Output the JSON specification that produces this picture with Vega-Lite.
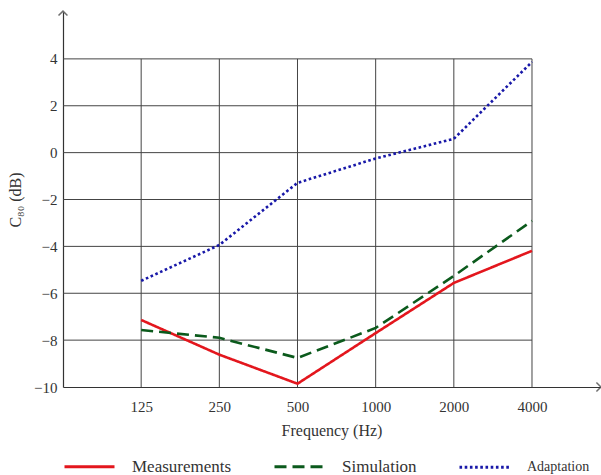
{
  "$schema": "https://vega.github.io/schema/vega-lite/v6.json",
  "width": 537,
  "height": 375,
  "autosize": {"type": "none"},
  "padding": {"left": 63, "top": 12, "right": 1, "bottom": 88},
  "background": "white",
  "config": {
    "font": "Liberation Serif",
    "view": {"stroke": null},
    "axis": {"grid": false, "ticks": false, "domainColor": "#333", "domainWidth": 1.2, "labelColor": "#333", "titleColor": "#333", "labelFont": "Liberation Serif", "titleFont": "Liberation Serif", "labelFontSize": 15, "titleFontSize": 16, "titleFontWeight": "normal"},
    "legend": {"labelFont": "Liberation Serif"}
  },
  "datasets": {
    "series": [
      {"idx": 1, "series": "Measurements", "value": -7.14},
      {"idx": 2, "series": "Measurements", "value": -8.62},
      {"idx": 3, "series": "Measurements", "value": -9.86},
      {"idx": 4, "series": "Measurements", "value": -7.7},
      {"idx": 5, "series": "Measurements", "value": -5.56},
      {"idx": 6, "series": "Measurements", "value": -4.19},
      {"idx": 1, "series": "Simulation", "value": -7.57},
      {"idx": 2, "series": "Simulation", "value": -7.9},
      {"idx": 3, "series": "Simulation", "value": -8.76},
      {"idx": 4, "series": "Simulation", "value": -7.48},
      {"idx": 5, "series": "Simulation", "value": -5.26},
      {"idx": 6, "series": "Simulation", "value": -2.91},
      {"idx": 1, "series": "Adaptation", "value": -5.47},
      {"idx": 2, "series": "Adaptation", "value": -3.94},
      {"idx": 3, "series": "Adaptation", "value": -1.29},
      {"idx": 4, "series": "Adaptation", "value": -0.25},
      {"idx": 5, "series": "Adaptation", "value": 0.59},
      {"idx": 6, "series": "Adaptation", "value": 3.87}
    ],
    "hgrid": [{"v": -8}, {"v": -6}, {"v": -4}, {"v": -2}, {"v": 0}, {"v": 2}, {"v": 4}],
    "vgrid": [{"i": 1}, {"i": 2}, {"i": 3}, {"i": 4}, {"i": 5}, {"i": 6}],
    "arrows": [{"ax": 0, "ay": 6, "dir": "up"}, {"ax": 6.87, "ay": -10, "dir": "right"}]
  },
  "layer": [
    {
      "data": {"name": "hgrid"},
      "mark": {"type": "rule", "color": "#444", "strokeWidth": 1},
      "encoding": {
        "y": {"field": "v", "type": "quantitative"},
        "x": {"datum": 0, "type": "quantitative"},
        "x2": {"datum": 6}
      }
    },
    {
      "data": {"name": "vgrid"},
      "mark": {"type": "rule", "color": "#444", "strokeWidth": 1},
      "encoding": {
        "x": {"field": "i", "type": "quantitative"},
        "y": {"datum": -10, "type": "quantitative"},
        "y2": {"datum": 4}
      }
    },
    {
      "data": {"name": "series"},
      "mark": {"type": "line", "strokeWidth": 2.6},
      "encoding": {
        "x": {
          "field": "idx", "type": "quantitative",
          "scale": {"domain": [0, 6.87], "nice": false, "zero": false},
          "axis": {"values": [1, 2, 3, 4, 5, 6], "labelExpr": "['','125','250','500','1000','2000','4000'][datum.value]", "title": "Frequency (Hz)", "labelPadding": 12, "titlePadding": 8}
        },
        "y": {
          "field": "value", "type": "quantitative",
          "scale": {"domain": [-10, 6], "nice": false},
          "axis": {"values": [-10, -8, -6, -4, -2, 0, 2, 4], "title": "C₈₀ (dB)", "labelPadding": 6, "titlePadding": 10}
        },
        "color": {
          "field": "series", "type": "nominal",
          "scale": {"domain": ["Measurements", "Simulation", "Adaptation"], "range": ["#e3161d", "#0b5a1c", "#1818a8"]},
          "legend": {"title": null, "orient": "bottom", "direction": "horizontal", "symbolType": "stroke", "symbolSize": 2500, "symbolStrokeWidth": 3, "labelFontSize": 17, "labelColor": "#333", "labelFont": "Liberation Serif", "labelOffset": 16, "columnPadding": 36, "offset": 2,
            "encode": {"labels": {"update": {"font": {"value": "Liberation Serif"}, "fontSize": {"signal": "datum.label == 'Adaptation' ? 14 : 17"}}}}}
        },
        "strokeDash": {
          "field": "series", "type": "nominal",
          "scale": {"domain": ["Measurements", "Simulation", "Adaptation"], "range": [[1, 0], [12, 6], [2.6, 2.6]]},
          "legend": {"title": null, "orient": "bottom", "direction": "horizontal", "symbolType": "stroke", "symbolSize": 2500, "symbolStrokeWidth": 3, "labelFontSize": 17, "labelColor": "#333", "labelFont": "Liberation Serif", "labelOffset": 16, "columnPadding": 36, "offset": 2,
            "encode": {"labels": {"update": {"font": {"value": "Liberation Serif"}, "fontSize": {"signal": "datum.label == 'Adaptation' ? 14 : 17"}}}}}
        }
      }
    },
    {
      "data": {"name": "arrows"},
      "mark": {"type": "point", "filled": false, "stroke": "#333", "strokeWidth": 1.5, "size": 80},
      "encoding": {
        "x": {"field": "ax", "type": "quantitative"},
        "y": {"field": "ay", "type": "quantitative"},
        "shape": {"field": "dir", "type": "nominal", "scale": {"domain": ["up", "right"], "range": ["M-1,0.8L0,-0.2L1,0.8", "M-0.8,-1L0.2,0L-0.8,1"]}, "legend": null}
      }
    }
  ]
}
